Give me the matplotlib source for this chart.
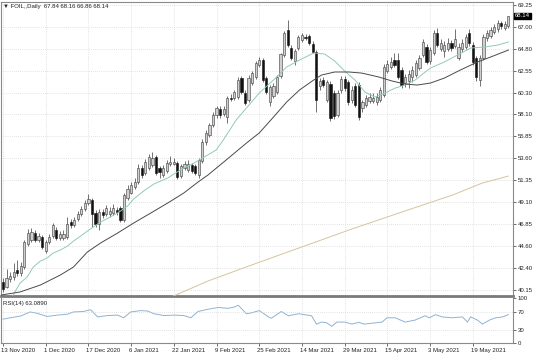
import numpy as np
import matplotlib
matplotlib.use('Agg')
import matplotlib.pyplot as plt
import matplotlib.transforms as mtransforms

plt.rcParams['font.family'] = ['Liberation Sans', 'DejaVu Sans']

# daily candles (bar index 0 = 13 Nov 2020)
opens = [41.0, 40.5, 41.3, 41.5, 42.2, 41.9, 42.5, 44.8, 45.3, 46.0,
         45.2, 45.6, 44.1, 45.0, 45.7, 46.3, 45.5, 45.5, 45.6, 47.1,
         46.8, 47.4, 47.9, 48.4, 49.0, 49.3, 48.0, 46.9, 48.1, 47.9,
         47.9, 48.0, 48.3, 48.5, 47.3, 49.5, 50.1, 50.7, 51.2, 52.6,
         52.1, 52.6, 52.9, 53.7, 52.6, 51.9, 52.3, 53.0, 53.0, 53.1,
         51.8, 52.6, 52.4, 52.9, 52.8, 51.9, 53.3, 55.3, 56.0, 57.0,
         58.0, 58.6, 58.1, 57.8, 59.8, 59.8, 59.9, 61.8, 60.3, 59.5,
         61.3, 61.9, 63.1, 63.6, 61.8, 59.3, 60.0, 60.4, 62.0, 64.1,
         66.7, 64.9, 63.5, 64.9, 65.7, 66.0, 66.1, 65.3, 64.5, 61.0,
         61.6, 59.6, 61.2, 60.3, 58.0, 60.6, 61.7, 61.4, 59.5, 61.0,
         61.1, 58.7, 59.0, 59.4, 59.4, 59.3, 59.5, 60.1, 62.5, 62.9,
         63.6, 63.6, 62.6, 61.3, 61.5, 61.9, 62.1, 62.8, 64.1, 65.0,
         63.5, 64.3, 66.4, 64.8, 64.6, 64.8, 65.4, 65.1, 63.8, 64.8,
         65.0, 66.4, 65.2, 63.8, 61.6, 63.8, 65.9, 66.1, 66.5, 66.8,
         67.4, 66.9, 67.1]
highs = [41.4, 42.3, 42.0, 42.9, 43.2, 43.0, 45.3, 46.4, 46.5, 46.3,
         46.0, 45.8, 45.3, 45.9, 47.0, 46.6, 46.2, 46.3, 47.6, 47.4,
         47.6, 48.2, 48.7, 49.3, 49.9, 49.5, 48.3, 48.4, 48.4, 48.8,
         48.6, 48.9, 48.6, 48.7, 50.1, 50.9, 51.2, 51.6, 53.0, 52.9,
         53.5, 54.0, 54.2, 53.9, 52.8, 52.9, 53.4, 53.8, 53.6, 53.3,
         53.0, 53.3, 53.4, 53.1, 53.0, 53.6, 55.6, 56.5, 57.2, 58.3,
         58.9, 58.9, 58.9, 60.0, 60.2, 60.6, 61.9, 62.0, 60.6, 62.1,
         62.5, 63.5, 63.9, 63.8, 62.0, 61.1, 61.3, 62.1, 64.4, 66.6,
         67.7, 65.2, 64.8, 66.2, 66.4, 66.3, 66.3, 65.6, 64.7, 61.8,
         61.9, 61.6, 61.5, 60.6, 60.6, 62.0, 62.0, 61.6, 61.0, 61.3,
         61.4, 59.6, 60.1, 60.3, 60.3, 60.3, 60.9, 63.2, 63.6, 63.9,
         64.4, 64.3, 62.9, 62.2, 62.6, 63.0, 63.6, 64.1, 65.8, 65.3,
         65.0, 66.7, 66.9, 65.8, 65.6, 65.9, 65.7, 66.8, 65.4, 65.8,
         66.3, 66.8, 65.5, 64.0, 64.1, 66.3, 66.7, 67.0, 67.3, 67.7,
         67.6, 67.6, 68.16]
lows = [39.9, 40.3, 41.0, 41.2, 41.6, 41.6, 42.3, 44.6, 45.0, 45.0,
        45.0, 44.3, 43.9, 44.8, 45.5, 45.3, 45.3, 45.2, 45.4, 46.5,
        46.6, 47.2, 47.7, 48.2, 48.8, 46.6, 46.6, 46.3, 47.5, 47.7,
        47.6, 47.8, 47.8, 47.1, 47.1, 49.3, 49.9, 50.5, 51.0, 51.6,
        51.9, 52.4, 52.7, 51.9, 51.6, 51.7, 52.1, 52.8, 52.9, 51.5,
        51.6, 52.4, 52.2, 52.1, 51.9, 51.6, 53.1, 55.0, 55.8, 56.8,
        57.7, 57.7, 57.9, 57.2, 59.4, 59.6, 59.7, 60.2, 59.0, 59.3,
        61.1, 61.7, 62.9, 61.4, 60.2, 58.9, 59.8, 60.2, 61.8, 63.9,
        65.0, 63.6, 63.1, 64.7, 65.5, 65.7, 65.2, 64.3, 58.3, 60.6,
        60.9, 59.3, 57.4, 57.6, 57.8, 60.3, 60.5, 59.0, 59.2, 58.8,
        57.5, 58.3, 58.8, 59.2, 59.2, 59.0, 59.3, 59.9, 62.3, 62.7,
        62.9, 61.7, 60.8, 60.9, 60.8, 61.4, 61.9, 62.6, 63.9, 63.2,
        63.2, 64.1, 65.0, 64.6, 63.9, 64.6, 64.6, 64.9, 63.6, 64.5,
        64.8, 65.1, 63.1, 61.5, 61.0, 63.6, 65.6, 65.9, 66.3, 66.5,
        66.8, 66.7, 66.86]
closes = [40.2, 41.4, 41.6, 42.0, 41.9, 42.6, 45.0, 46.0, 46.1, 45.2,
          45.7, 44.5, 45.0, 45.6, 46.8, 45.5, 45.9, 45.9, 46.9, 46.8,
          47.3, 47.9, 48.4, 49.0, 49.4, 47.9, 46.9, 48.1, 47.8, 48.5,
          48.2, 48.5, 48.1, 47.3, 49.8, 50.5, 50.9, 51.2, 52.6, 51.9,
          53.2, 53.7, 53.6, 52.1, 52.2, 52.6, 53.1, 53.2, 53.2, 51.7,
          52.8, 53.0, 53.0, 52.3, 52.1, 53.4, 55.3, 56.2, 57.0, 58.0,
          58.7, 58.0, 58.6, 59.8, 59.7, 60.4, 61.6, 60.4, 59.2, 61.8,
          62.3, 63.3, 63.6, 61.6, 60.4, 60.9, 61.0, 61.9, 64.2, 66.4,
          65.2, 63.8, 64.6, 66.0, 66.2, 65.9, 65.4, 64.5, 59.6, 61.5,
          61.1, 61.4, 57.7, 57.9, 60.3, 61.7, 60.8, 59.3, 60.6, 59.0,
          57.8, 59.3, 59.8, 59.9, 59.8, 59.9, 60.6, 62.9, 63.2, 63.4,
          63.1, 61.9, 61.1, 61.9, 62.2, 62.6, 63.3, 63.8, 65.5, 63.4,
          64.7, 66.4, 65.2, 65.4, 65.2, 65.4, 64.9, 65.8, 65.0, 65.4,
          66.0, 65.4, 63.4, 61.9, 63.8, 66.0, 66.4, 66.7, 67.0, 67.4,
          67.1, 67.3, 68.14]

# moving averages, read at sample bars
fast_ma_bar = [2.8, 4.8, 6.8, 8.5, 10.5, 12.4, 14.1, 16.1, 18.1, 19.8, 21.8,
               23.7, 25.4, 27.4, 32.2, 35.0, 36.7, 39.5, 42.4, 46.3, 48.0,
               50.8, 53.7, 56.5, 59.9, 61.9, 65.5, 68.4, 72.0, 76.0, 79.7,
               83.3, 87.3, 90.4, 93.2, 96.0, 98.9, 101.7, 104.5, 107.3,
               110.2, 113.0, 115.8, 120.1, 124.0, 127.7, 131.4, 135.3,
               139.0, 142.0]
fast_ma = [39.6, 40.85, 41.47, 42.49, 43.1, 43.41, 43.92, 44.22, 44.63,
           45.14, 45.65, 46.16, 46.57, 47.08, 48.0, 48.72, 49.43, 50.25,
           50.97, 51.58, 51.99, 52.6, 53.11, 53.72, 54.44, 55.46, 57.5,
           58.73, 60.26, 61.59, 62.92, 63.63, 64.35, 64.24, 63.53, 62.51,
           61.59, 60.36, 59.85, 60.26, 60.77, 61.08, 61.59, 62.82, 63.43,
           64.14, 64.86, 64.96, 65.16, 65.47]
slow_ma_bar = [-0.6, 4.8, 10.5, 16.1, 19.8, 23.7, 27.4, 32.2, 36.7, 41.5,
               46.3, 50.8, 54.8, 57.6, 62.7, 68.4, 72.0, 76.0, 79.7, 83.3,
               87.3, 89.5, 93.2, 97.2, 100.8, 105.6, 109.3, 113.0, 116.4,
               120.1, 124.0, 128.5, 133.3, 137.0, 142.0]
slow_ma = [39.63, 39.94, 40.65, 41.67, 42.49, 44.02, 44.94, 45.96, 46.98,
           48.0, 49.03, 50.05, 51.17, 51.89, 53.42, 55.15, 56.18, 57.81,
           59.34, 60.57, 61.59, 62.1, 62.41, 62.41, 62.3, 61.9, 61.49,
           61.18, 61.08, 61.28, 61.79, 62.61, 63.43, 63.94, 64.65]
long_ma_bar = [46.6, 57.6, 69.8, 83.9, 98.0, 112.1, 126.3, 134.7, 142.0]
long_ma = [39.32, 41.06, 42.69, 44.53, 46.37, 48.11, 49.84, 51.07, 51.78]

rsi_bar = [0, 2, 5, 7.6, 9.6, 12.4, 15.3, 18.1, 19.8, 22.6, 24.6, 26.6,
           29.4, 32.2, 33.9, 35.9, 38.7, 40.7, 42.4, 45.2, 48.0, 50.8,
           52.8, 54.8, 57.6, 60.5, 63.3, 65.0, 66.1, 68.4, 69.8, 72.0,
           74.6, 75.4, 78.2, 80.2, 83.1, 86.7, 88.1, 89.5, 90.9, 92.4,
           93.8, 96.0, 98.0, 100.0, 101.4, 103.7, 106.5, 107.9, 110.2,
           113.0, 115.8, 118.6, 119.8, 121.5, 123.4, 126.3, 129.1, 130.5,
           131.4, 133.3, 134.7, 136.7, 138.4, 140.4, 142.0]
rsi = [53, 56, 60, 69, 66, 59, 62, 64, 69, 70, 74, 58, 61, 62, 56, 69, 72,
       71, 65, 61, 62, 61, 56, 70, 75, 79, 77, 80, 84, 65, 67, 72, 58, 55,
       70, 60.5, 65, 60.5, 42, 46.5, 45, 37, 46.5, 46.5, 42, 46, 42, 44,
       46.5, 56, 56, 46.5, 51, 60.5, 56, 63, 58, 56, 58, 46.5, 58, 51, 42,
       51, 56, 58, 63.09]

price_ticks = [40.15, 42.40, 44.60, 46.85, 49.10, 51.35, 53.60, 55.85,
               58.10, 60.30, 62.55, 64.80, 67.00, 69.25]
date_bars = [0, 12, 24, 36, 48, 60, 72, 84, 96, 108, 120, 132]
date_labels = ['13 Nov 2020', '1 Dec 2020', '17 Dec 2020', '6 Jan 2021',
               '22 Jan 2021', '9 Feb 2021', '25 Feb 2021', '14 Mar 2021',
               '29 Mar 2021', '15 Apr 2021', '3 May 2021', '19 May 2021']

o = np.array(opens)
h = np.array(highs)
l = np.array(lows)
c = np.array(closes)
x = np.arange(len(c))
up = c >= o

W, H = 536, 357
fig = plt.figure(figsize=(W / 100, H / 100), dpi=100)
ax = fig.add_axes([1 / W, (H - 296) / H, 512 / W, 294 / H])
ax2 = fig.add_axes([1 / W, (H - 343) / H, 512 / W, 45 / H], sharex=ax)

fs = 4.3
frame = '#8a8a8a'
gridc = '#c9c9c9'

# candles
ax.vlines(x, l, h, color='#3a3a3a', lw=0.5, zorder=2)
ax.bar(x[up], np.maximum(c - o, 0.06)[up], bottom=o[up], width=0.62,
       color='#cfcfcf', edgecolor='#3a3a3a', lw=0.4, zorder=3)
ax.bar(x[~up], (o - c)[~up], bottom=c[~up], width=0.62,
       color='#111111', edgecolor='#111111', lw=0.4, zorder=3)

ax.plot(fast_ma_bar, fast_ma, color='#93c9b9', lw=0.7, zorder=4)
ax.plot(slow_ma_bar, slow_ma, color='#4a4a4a', lw=0.7, zorder=4)
ax.plot(long_ma_bar, long_ma, color='#d6c3a0', lw=0.7, zorder=4)

ax.set_xlim(-0.56, 143.3)
ax.set_ylim(39.53, 69.56)

ax.yaxis.tick_right()
ax.set_yticks(price_ticks)
ax.set_yticklabels(['%.2f' % v for v in price_ticks])
ax.grid(True, color=gridc, lw=0.5, linestyle=(0, (1, 2)))
ax.tick_params(axis='y', labelsize=fs, length=2, width=0.5, pad=1.5,
               color='#333333', labelcolor='#222222')
ax.tick_params(axis='x', length=0, labelbottom=False)
ax.set_xticks(date_bars)

ax.text(0.004, 0.992, '\u25bc FOIL,,Daily  67.84 68.16 66.86 68.14',
        transform=ax.transAxes, fontsize=fs, va='top', ha='left',
        color='#222222')

# current price tag
trans = mtransforms.blended_transform_factory(ax.transAxes, ax.transData)
ax.text(1.004, c[-1], '%.2f' % c[-1], transform=trans, fontsize=fs,
        va='center', ha='left', color='white', zorder=10,
        bbox=dict(boxstyle='square,pad=0.15', fc='black', ec='black'))

# RSI pane
ax2.plot(rsi_bar, rsi, color='#8fb3d4', lw=0.7)
ax2.set_ylim(0, 100)
ax2.yaxis.tick_right()
ax2.set_yticks([0, 30, 70, 100])
ax2.set_yticklabels(['0', '30', '70', '100'])
ax2.tick_params(axis='y', labelsize=fs, length=2, width=0.5, pad=1.5,
                color='#333333', labelcolor='#222222')
ax2.set_xticks(date_bars)
ax2.set_xticklabels(date_labels, ha='left')
ax2.tick_params(axis='x', labelsize=fs, length=2, width=0.5, pad=1.5,
                color='#333333', labelcolor='#222222')
for lab in ax2.get_xticklabels():
    lab.set_transform(lab.get_transform() +
                      mtransforms.ScaledTranslation(-2 / 100, 0, fig.dpi_scale_trans))
ax2.grid(True, axis='x', color=gridc, lw=0.5, linestyle=(0, (1, 2)))
for lv in [30, 70]:
    ax2.axhline(lv, color=gridc, lw=0.5, linestyle=(0, (1, 2)))
ax2.text(0.004, 0.93, 'RSI(14) 63.0890', transform=ax2.transAxes,
         fontsize=fs, va='top', ha='left', color='#222222')

for a in (ax, ax2):
    for s in a.spines.values():
        s.set_color(frame)
        s.set_linewidth(0.8)
# thick divider between the two panes
ax.spines['bottom'].set_linewidth(2.0)
ax.spines['bottom'].set_color('#7a7a7a')
ax2.spines['top'].set_visible(False)

fig.savefig('out.png', dpi=100)
